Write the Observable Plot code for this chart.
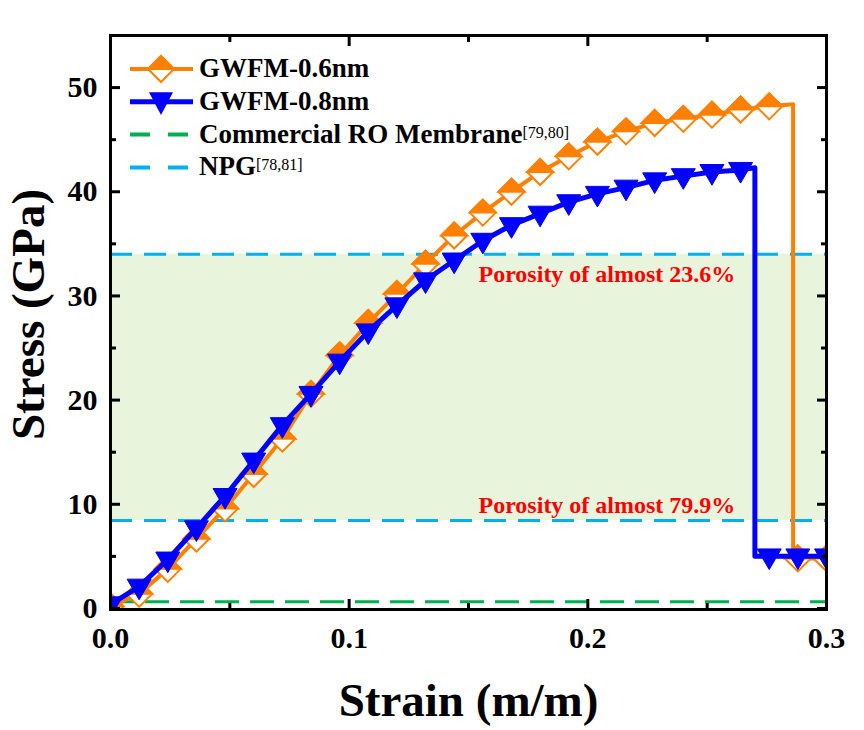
<!DOCTYPE html>
<html><head><meta charset="utf-8">
<script src="https://cdn.jsdelivr.net/npm/d3@7"></script>
<script src="https://cdn.jsdelivr.net/npm/@observablehq/plot@0.6"></script>
<style>
body{margin:0;background:#fff;}
#wrap{position:relative;width:864px;height:730px;background:#fff;}
#wrap svg{position:absolute;left:0;top:0;}
</style></head><body><div id="wrap"></div>
<script>
// ---- data ----
const strainMarks = [0.000,0.012,0.024,0.036,0.048,0.060,0.072,0.084,0.096,0.108,0.120,0.132,0.144,0.156,0.168,0.180,0.192,0.204,0.216,0.228,0.240,0.252,0.264,0.276,0.288,0.300];
const stress06 = [0.2,1.4,3.8,6.7,9.6,12.9,16.3,20.6,24.3,27.4,30.2,33.1,35.8,38.0,40.0,41.9,43.4,44.8,45.8,46.6,47.0,47.4,47.9,48.2,4.8,4.8];
const stress08 = [0.4,2.1,4.7,7.7,10.8,14.2,17.6,20.6,23.7,26.6,29.1,31.5,33.4,35.3,36.8,37.9,39.0,39.8,40.4,41.1,41.5,41.9,42.1,5.0,5.0,5.0];
const seriesNames = ["GWFM-0.6nm","GWFM-0.8nm"];
const failureStrain = [0.286, 0.270];
const peakStress = [48.4, 42.3];
const residualStress = [4.8, 5.0];
const roLevel = [0.65];
const npgLevels = [34.0, 8.45];
const porosityLabels = ["Porosity of almost 23.6%", "Porosity of almost 79.9%"];
const annotationStrain = [0.208];
const xDomain = [0, 0.3];
const yDomain = [-0.1, 55];
const xTicks = [0, 0.1, 0.2, 0.3];
const xMinorTicks = [0.05, 0.15, 0.25];
const yTicks = [0, 10, 20, 30, 40, 50];
const yMinorTicks = [5, 15, 25, 35, 45];
const legendLabels = ["GWFM-0.6nm","GWFM-0.8nm","Commercial RO Membrane","NPG"];
const legendSup = ["","","[79,80]","[78,81]"];
const xLabel = "Strain (m/m)";
const yLabel = "Stress (GPa)";

// ---- styles ----
const ORANGE = "#FF8000", BLUE = "#0000FF", GREEN = "#00B050", CYAN = "#00B0F0", BAND = "#E8F4DC";
const FONT = "'Liberation Serif','Times New Roman',serif";

const points = (stress) => strainMarks.map((s, k) => ({s, v: stress[k]}));
function curve(stress, i) {
  const p = points(stress);
  return [
    ...p.filter(d => d.s < failureStrain[i]),
    {s: failureStrain[i], v: peakStress[i]},
    {s: failureStrain[i], v: residualStress[i]},
    ...p.filter(d => d.s > failureStrain[i])
  ];
}

const diamondFull = {draw(c, size){ const h = Math.sqrt(size/Math.PI); c.moveTo(0,-h); c.lineTo(h,0); c.lineTo(0,h); c.lineTo(-h,0); c.closePath(); }};
const diamondTop = {draw(c, size){ const h = Math.sqrt(size/Math.PI); c.moveTo(0,-h); c.lineTo(h,0); c.lineTo(-h,0); c.closePath(); }};
const triDown = {draw(c, size){ const h = Math.sqrt(size/Math.PI); c.moveTo(-h,-0.62*h); c.lineTo(h,-0.62*h); c.lineTo(0,1.1*h); c.closePath(); }};

const axisFont = {fontSize: 30, fontWeight: "bold", fontFamily: FONT};
const blank = () => "";

const chart = Plot.plot({
  width: 864, height: 730,
  marginLeft: 110, marginRight: 38, marginTop: 35, marginBottom: 121,
  style: {fontFamily: FONT, background: "white", color: "black"},
  x: {domain: xDomain},
  y: {domain: yDomain},
  marks: [
    Plot.rect([npgLevels], {x1: () => xDomain[0], x2: () => xDomain[1], y1: d => d[1], y2: d => d[0], fill: BAND}),
    Plot.ruleY(npgLevels, {stroke: CYAN, strokeWidth: 3, strokeDasharray: "22,12"}),
    Plot.ruleY(roLevel, {stroke: GREEN, strokeWidth: 3, strokeDasharray: "24,11"}),
    Plot.text([porosityLabels[0]], {text: d => d, x: () => annotationStrain[0], y: () => npgLevels[0], dy: 20, fill: "#FF0000", fontSize: 24, fontWeight: "bold"}),
    Plot.text([porosityLabels[1]], {text: d => d, x: () => annotationStrain[0], y: () => npgLevels[1], dy: -15, fill: "#FF0000", fontSize: 24, fontWeight: "bold"}),
    // GWFM-0.6nm
    Plot.line(curve(stress06, 0), {x: "s", y: "v", stroke: ORANGE, strokeWidth: 4, clip: true}),
    Plot.dot(points(stress06), {x: "s", y: "v", r: 13, symbol: diamondFull, fill: "white", stroke: ORANGE, strokeWidth: 2, clip: true}),
    Plot.dot(points(stress06), {x: "s", y: "v", r: 13, symbol: diamondTop, fill: ORANGE, stroke: ORANGE, strokeWidth: 2, clip: true}),
    // GWFM-0.8nm
    Plot.line(curve(stress08, 1), {x: "s", y: "v", stroke: BLUE, strokeWidth: 5, clip: true}),
    Plot.dot(points(stress08), {x: "s", y: "v", r: 12, symbol: triDown, fill: BLUE, stroke: BLUE, strokeWidth: 1, clip: true}),
    Plot.frame({strokeWidth: 3}),
    // axes (inward ticks)
    Plot.axisX(xTicks, {anchor: "bottom", tickSize: -10, tickPadding: 27, strokeWidth: 3, tickFormat: d3.format(".1f"), label: null, ...axisFont}),
    Plot.axisX(xMinorTicks, {anchor: "bottom", tickSize: -6, strokeWidth: 3, tickFormat: blank, label: null}),
    Plot.axisX(xTicks, {anchor: "top", tickSize: -10, strokeWidth: 3, tickFormat: blank, label: null}),
    Plot.axisX(xMinorTicks, {anchor: "top", tickSize: -6, strokeWidth: 3, tickFormat: blank, label: null}),
    Plot.axisY(yTicks, {anchor: "left", tickSize: -10, tickPadding: 23, strokeWidth: 3, tickFormat: d3.format("d"), label: null, ...axisFont}),
    Plot.axisY(yMinorTicks, {anchor: "left", tickSize: -6, strokeWidth: 3, tickFormat: blank, label: null}),
    Plot.axisY(yTicks, {anchor: "right", tickSize: -10, strokeWidth: 3, tickFormat: blank, label: null}),
    Plot.axisY(yMinorTicks, {anchor: "right", tickSize: -6, strokeWidth: 3, tickFormat: blank, label: null}),
    Plot.text([xLabel], {text: d => d, frameAnchor: "bottom", textAnchor: "middle", lineAnchor: "middle", dy: 91, fontSize: 47, fontWeight: "bold"}),
    Plot.text([yLabel], {text: d => d, frameAnchor: "left", textAnchor: "middle", lineAnchor: "middle", rotate: -90, dx: -82, dy: -8, fontSize: 47, fontWeight: "bold"})
  ]
});

const wrap = document.getElementById("wrap");
wrap.appendChild(chart);

// ---- legend overlay ----
const leg = d3.create("svg").attr("width", 864).attr("height", 730).style("pointer-events", "none").style("font-family", FONT);
const kinds = [
  {color: ORANGE, dash: null, sym: "diamond", w: 4},
  {color: BLUE, dash: null, sym: "tri", w: 5},
  {color: GREEN, dash: "20,18", sym: null, w: 4},
  {color: CYAN, dash: "20,18", sym: null, w: 4}
];
legendLabels.forEach((lab, i) => {
  const y = 69 + i * 32.8;
  const k = kinds[i];
  const g = leg.append("g");
  g.append("line").attr("x1", 130).attr("x2", 193).attr("y1", y).attr("y2", y)
    .attr("stroke", k.color).attr("stroke-width", k.w).attr("stroke-dasharray", k.dash);
  if (k.sym === "diamond") {
    const h = 13;
    g.append("path").attr("d", `M161,${y-h}L${161+h},${y}L161,${y+h}L${161-h},${y}Z`).attr("fill", "white").attr("stroke", k.color).attr("stroke-width", 2);
    g.append("path").attr("d", `M161,${y-h}L${161+h},${y}L${161-h},${y}Z`).attr("fill", k.color).attr("stroke", k.color).attr("stroke-width", 2);
  } else if (k.sym === "tri") {
    const h = 12;
    g.append("path").attr("d", `M${161-h},${y-0.8*h}L${161+h},${y-0.8*h}L161,${y+1.1*h}Z`).attr("fill", k.color);
  }
  const t = g.append("text").attr("x", 199).attr("y", y + 8).attr("font-size", 27).attr("font-weight", "bold").attr("fill", "black");
  t.append("tspan").text(lab);
  if (legendSup[i]) t.append("tspan").attr("font-size", 16).attr("font-weight", "normal").attr("dy", -5).text(legendSup[i]);
});
wrap.appendChild(leg.node());
</script>
</body></html>
